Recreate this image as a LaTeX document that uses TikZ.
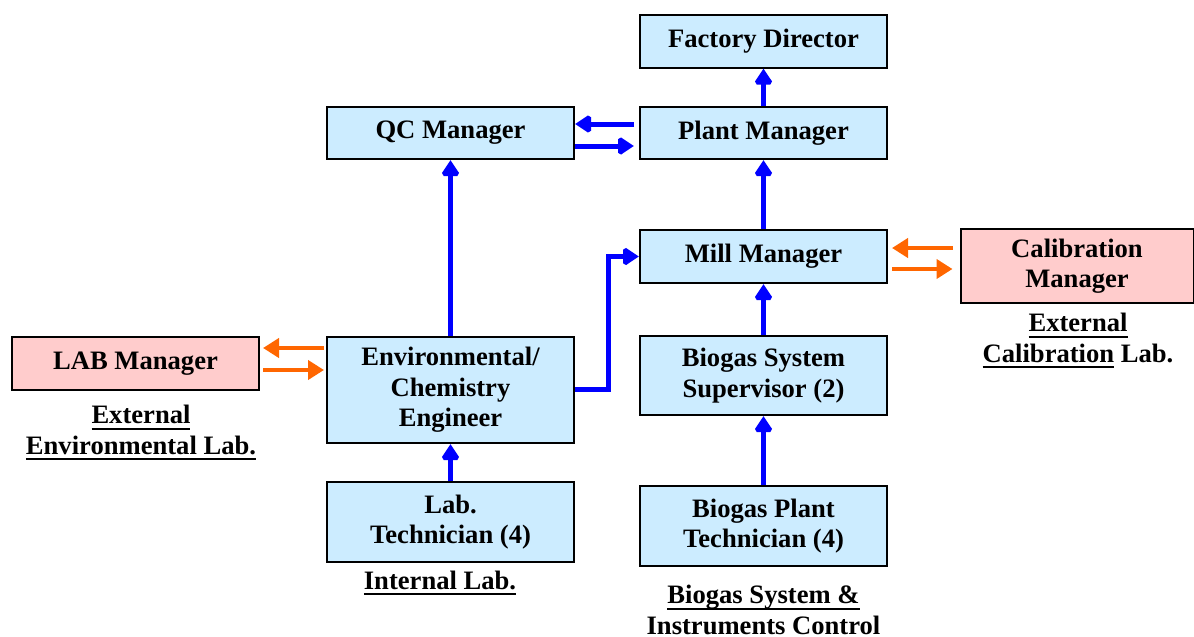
\documentclass[tikz,border=0pt]{standalone}
\usepackage{fontspec}
\setmainfont{Liberation Serif}
\usepackage{xcolor}
\usepackage{tikz}
\usetikzlibrary{positioning,arrows.meta}
\definecolor{boxblue}{RGB}{204,236,255}
\definecolor{boxpink}{RGB}{255,204,204}
\definecolor{linkorange}{RGB}{255,102,0}
\newcommand{\undl}[1]{\setbox0\hbox{#1}\rlap{\rule[-3pt]{\wd0}{1pt}}\box0}

\begin{document}
\begin{tikzpicture}[x=0.5pt,y=-0.5pt,
		box/.style={draw=black, line width=1pt, fill=boxblue, align=center, inner sep=0pt,
			minimum width=123.5pt, font=\fontsize{13.3}{15.25}\selectfont\bfseries},
		extbox/.style={box, fill=boxpink},
		lbl/.style={align=center, inner sep=0pt, font=\fontsize{13.3}{15.25}\selectfont\bfseries},
		blink/.style={draw=blue, line width=2.5pt, miter limit=2, -{Triangle[length=8pt,width=10pt]}},
		olink/.style={draw=linkorange, line width=2pt, -{Triangle[length=8pt,width=9.5pt]}}]
				\useasboundingbox (0,0) rectangle (1194,637);
				
				\node[box, minimum height=26.5pt] (fd) at (763.5,41) {Factory Director};
				\node[box, minimum height=26pt] (qc) at (450.5,133) {QC Manager};
				\node[box, minimum height=26pt] (pm) at (763.5,133) {Plant Manager};
				\node[box, minimum height=26.5pt] (mm) at (763.5,256.5) {Mill Manager};
				\node[extbox, minimum width=116.5pt, minimum height=37pt] (cal) at (1077,266) {Calibration\\Manager};
				\node[extbox, minimum height=26.5pt] (lab) at (135.5,363.5) {LAB Manager};
				\node[box, minimum height=53pt] (env) at (450.5,390) {Environmental/\\Chemistry\\Engineer};
				\node[box, minimum height=39.5pt] (sup) at (763.5,375.5) {Biogas System\\Supervisor (2)};
				\node[box, minimum height=40pt] (ltech) at (450.5,522) {Lab.\\Technician (4)};
				\node[box, minimum height=40pt] (btech) at (763.5,526) {Biogas Plant\\Technician (4)};
				
				\node[lbl] (extenv) at (141,433) {\undl{External}\\\undl{Environmental Lab.}};
				\node[lbl] (extcal) at (1078,341) {\undl{External}\\\undl{Calibration}\ Lab.};
				\node[lbl] (intlab) at (440,583) {\undl{Internal Lab.}};
				\node[lbl] (bsic) at (763.5,610) {\undl{Biogas System \&}\\Instruments Control};
				
				\draw[blink] (pm) -- (fd);
				\draw[blink] ([xshift=-2.5pt,yshift=4.5pt]pm.west) -- ([yshift=4.5pt]qc.east);
				\draw[blink] ([yshift=-6.5pt]qc.east) -- ([xshift=-2.5pt,yshift=-6.5pt]pm.west);
				\draw[blink] (env) -- (qc);
				\draw[blink] (mm) -- (pm);
				\draw[blink] ([yshift=0.5pt]env.east) -- ++(33,0) |- (mm.west);
				\draw[blink] (sup) -- (mm);
				\draw[blink] (btech) -- (sup);
				\draw[blink] (ltech) -- (env);
				
				\draw[olink] ([xshift=-1pt,yshift=7.75pt]lab.east -| env.west) -- ([xshift=1.5pt,yshift=7.75pt]lab.east);
				\draw[olink] ([xshift=1.5pt,yshift=-3.25pt]lab.east) -- ([xshift=-1pt,yshift=-3.25pt]lab.east -| env.west);
				\draw[olink] ([xshift=-3.5pt,yshift=4.25pt]mm.east -| cal.west) -- ([xshift=2pt,yshift=4.25pt]mm.east);
				\draw[olink] ([xshift=2pt,yshift=-6.25pt]mm.east) -- ([xshift=-3.5pt,yshift=-6.25pt]mm.east -| cal.west);
			\end{tikzpicture}
\end{document}
